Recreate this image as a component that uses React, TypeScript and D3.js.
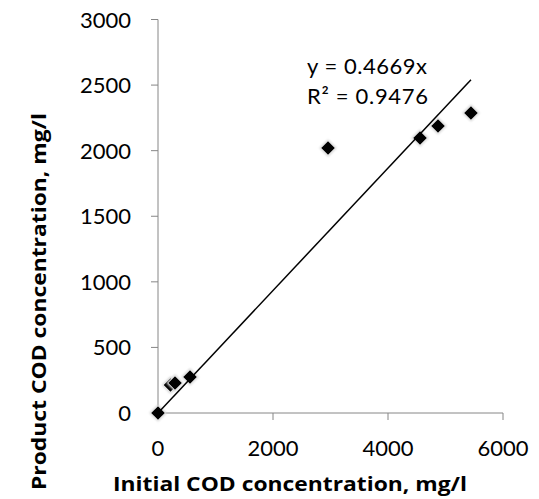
import React from "react";
import * as d3 from "d3";

const initialCOD = [0, 217, 296, 557, 2957, 4557, 4870, 5443];
const productCOD = [0, 213, 229, 275, 2020, 2096, 2188, 2287];
const xTickValues = [0, 2000, 4000, 6000];
const yTickValues = [0, 500, 1000, 1500, 2000, 2500, 3000];
const slope = 0.4669;
const equationLines = ["y = 0.4669x", "R² = 0.9476"];

const width = 539;
const height = 499;
const font = "Lato, 'Open Sans', sans-serif";
const titleFont = "'Open Sans', Lato, sans-serif";
const axisColor = "#868686";

export default function App() {
  const x = d3.scaleLinear().domain([0, 6000]).range([158, 503]);
  const y = d3.scaleLinear().domain([0, 3000]).range([413, 19.5]);

  const points = initialCOD.map((v, i) => [v, productCOD[i]] as [number, number]);
  const xMax = d3.max(initialCOD) || 0;
  const trend = d3
    .line<number>()
    .x((d) => x(d))
    .y((d) => y(d * slope))([0, xMax]);

  const r = 6.8;
  const glowR = 8.6;
  const dPath = (s: number) => `M0,${-s}L${s},0L0,${s}L${-s},0Z`;

  return (
    <svg
      width={width}
      height={height}
      style={{ position: "absolute", left: 0, top: 0, background: "#fff" }}
      fontFamily={font}
    >
      <defs>
        <filter id="glow" x="-50%" y="-50%" width="200%" height="200%">
          <feGaussianBlur stdDeviation="1" />
        </filter>
      </defs>

      {/* axes */}
      <line x1={x(0)} x2={x(0)} y1={y(3000)} y2={y(0)} stroke={axisColor} strokeWidth={1} />
      <line x1={x(0)} x2={x(6000)} y1={y(0)} y2={y(0)} stroke={axisColor} strokeWidth={1} />

      {yTickValues.map((t) => (
        <g key={t}>
          <line x1={x(0) - 7} x2={x(0)} y1={y(t)} y2={y(t)} stroke={axisColor} />
          <text x={131} y={y(t) + 8} textAnchor="end" fontSize={22} fill="#000">
            {t}
          </text>
        </g>
      ))}

      {xTickValues.map((t) => (
        <g key={t}>
          <line x1={x(t)} x2={x(t)} y1={y(0)} y2={y(0) + 7} stroke={axisColor} />
          <text x={x(t)} y={456} textAnchor="middle" fontSize={22} fill="#000">
            {t}
          </text>
        </g>
      ))}

      {/* markers */}
      {points.map(([px, py], i) => (
        <g key={i} transform={`translate(${x(px)},${y(py)})`}>
          <path d={dPath(glowR)} fill="#d0d0d0" filter="url(#glow)" />
          <path d={dPath(glowR - 1)} fill="#f4f4f4" />
          <path d={dPath(r)} fill="#000" />
        </g>
      ))}

      {/* trendline */}
      <path d={trend || ""} fill="none" stroke="#000" strokeWidth={1.5} />

      {/* equation */}
      {equationLines.map((s, i) => (
        <text
          key={s}
          x={307}
          y={74 + i * 30}
          fontSize={22}
          fill="#000"
          textLength={i === 0 ? 120 : 121}
          lengthAdjust="spacing"
        >
          {s}
        </text>
      ))}

      {/* axis titles */}
      <text
        x={113}
        y={491}
        fontSize={20}
        fontWeight="bold"
        fontFamily={titleFont}
        fill="#000"
        textLength={354}
        lengthAdjust="spacingAndGlyphs"
      >
        Initial COD concentration, mg/l
      </text>
      <text
        transform="translate(46,490) rotate(-90)"
        fontSize={20}
        fontWeight="bold"
        fontFamily={titleFont}
        fill="#000"
        textLength={377}
        lengthAdjust="spacingAndGlyphs"
      >
        Product COD concentration, mg/l
      </text>
    </svg>
  );
}
